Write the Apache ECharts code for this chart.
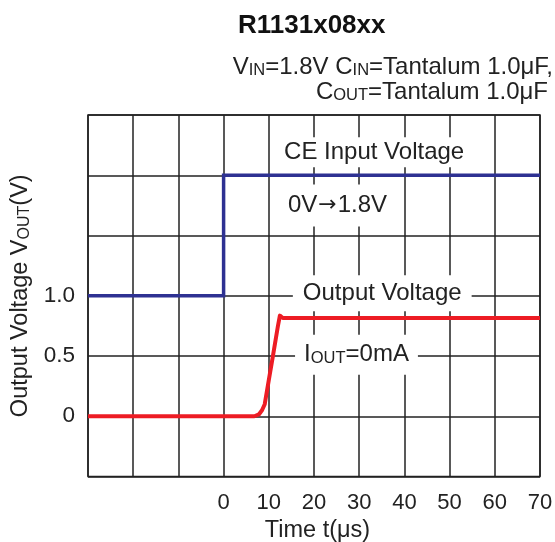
<!DOCTYPE html>
<html><head><meta charset="utf-8">
<script src="https://cdn.jsdelivr.net/npm/echarts@6/dist/echarts.min.js"></script>
<style>html,body{margin:0;padding:0;background:#fff}#c{width:555px;height:542px}</style>
</head><body><div id="c"></div>
<script>
// Data
const xTicks = [0, 10, 20, 30, 40, 50, 60, 70];
const yTickLabels = {0: '0', 0.5: '0.5', 1: '1.0'};
const timeCE = [-30, 0, 0, 70];
const voltCE = [1.0, 1.0, 2.0, 2.0];
const timeOut = [-30, 6.8, 7.8, 8.5, 9.1, 10, 11, 12, 12.45, 13.1, 70];
const voltOut = [0, 0, 0.015, 0.05, 0.1, 0.3, 0.52, 0.745, 0.835, 0.815, 0.815];

const FONT = '"Liberation Sans", Arial, Helvetica, sans-serif';
const chart = echarts.init(document.getElementById('c'), null, {renderer: 'canvas'});

const small = {fontSize: 16.5, fontFamily: FONT, color: '#222', verticalAlign: 'bottom'};
const norm = {fontSize: 24, fontFamily: FONT, color: '#222', verticalAlign: 'bottom'};
const arrow = {fontSize: 22, fontFamily: '"DejaVu Sans", sans-serif', color: '#222', verticalAlign: 'bottom', padding: [0, 1, 1, 1]};
const smallY = {fontSize: 16, fontFamily: FONT, color: '#222', verticalAlign: 'bottom'};
const normY = {fontSize: 23.5, fontFamily: FONT, color: '#222', verticalAlign: 'bottom'};

function annot(coord, text, padding) {
  return {
    coord: coord, value: text,
    symbol: 'rect', symbolSize: 0,
    label: {
      show: true, position: 'inside', formatter: text,
      backgroundColor: '#fff', padding: padding,
      fontSize: 24, fontFamily: FONT, color: '#222',
      rich: {s: small, n: norm, a: arrow}
    }
  };
}

const option = {
  animation: false,
  backgroundColor: '#fff',
  grid: {left: 88, right: 15, top: 115, bottom: 65.5, show: true, borderColor: '#222', borderWidth: 1.5,
    containLabel: false, outerBoundsMode: 'none'},
  xAxis: {
    type: 'value', min: -30, max: 70, interval: 10,
    axisLine: {show: false}, axisTick: {show: false},
    splitLine: {show: true, lineStyle: {color: '#222', width: 1.5}},
    axisLabel: {fontSize: 22, fontFamily: FONT, color: '#222', margin: 15,
      formatter: v => (xTicks.indexOf(v) >= 0 ? String(v) : '')},
    name: 'Time t(\u03bcs)', nameLocation: 'middle', nameGap: 41,
    nameTextStyle: {fontSize: 23.5, fontFamily: FONT, color: '#222', padding: [0, 0, 0, 7]}
  },
  yAxis: {
    type: 'value', min: -0.5, max: 2.5, interval: 0.5,
    axisLine: {show: false}, axisTick: {show: false},
    splitLine: {show: true, lineStyle: {color: '#222', width: 1.5}},
    axisLabel: {fontSize: 22.5, fontFamily: FONT, color: '#222', margin: 13,
      formatter: v => (yTickLabels[v] !== undefined ? yTickLabels[v] : '')},
    name: '{n|Output Voltage V}{s|OUT}{n|(V)}', nameLocation: 'middle', nameGap: 55, nameRotate: 90,
    nameTextStyle: {fontSize: 23.5, fontFamily: FONT, color: '#222', rich: {s: smallY, n: normY}}
  },
  series: [
    {
      type: 'line', data: timeCE.map((t, i) => [t, voltCE[i]]),
      symbol: 'none', lineStyle: {color: '#2e3192', width: 3.5, join: 'miter'}, z: 5
    },
    {
      type: 'line', data: timeOut.map((t, i) => [t, voltOut[i]]),
      symbol: 'none', lineStyle: {color: '#ed1c24', width: 4, join: 'round'}, z: 5
    },
    {
      type: 'scatter', data: [], z: 3,
      markPoint: {
        symbol: 'rect', symbolSize: 0, silent: true,
        data: [
          annot([33.3, 2.19], '{n|CE Input Voltage}', [3, 4]),
          annot([25.2, 1.75], '{n|0V}{a|\u2192}{n|1.8V}', [9, 4]),
          annot([35.1, 1.02], '{n|Output Voltage}', [6, 10]),
          annot([29.4, 0.51], '{n|I}{s|OUT}{n|=0mA}', [8, 9])
        ]
      }
    }
  ],
  graphic: [
    {type: 'text', left: 238, top: 13, style: {text: 'R1131x08xx', font: 'bold 26px ' + FONT, fill: '#111'}},
    {type: 'text', right: 2, top: 55, style: {
      text: '{n|V}{s|IN}{n|=1.8V C}{s|IN}{n|=Tantalum 1.0\u03bcF,}',
      rich: {n: norm, s: small}, fill: '#222'}},
    {type: 'text', right: 7, top: 80, style: {
      text: '{n|C}{s|OUT}{n|=Tantalum 1.0\u03bcF}',
      rich: {n: norm, s: small}, fill: '#222'}}
  ]
};
chart.setOption(option);
</script></body></html>
